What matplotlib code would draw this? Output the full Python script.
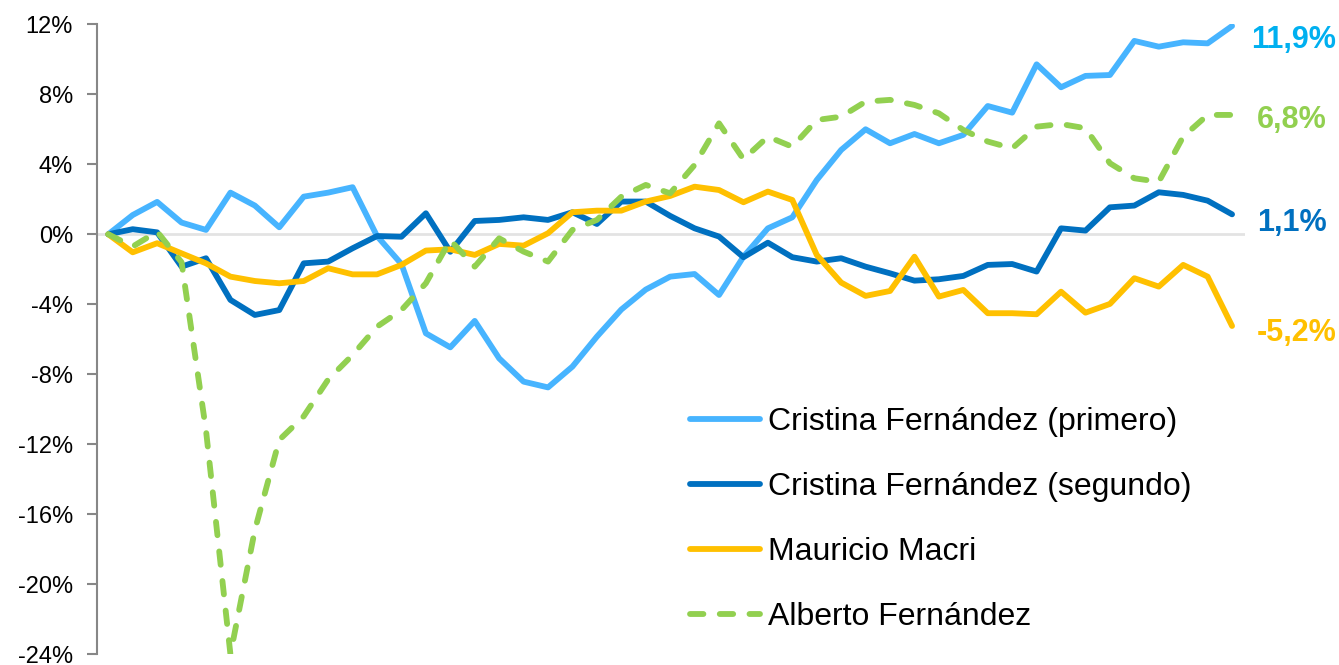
import matplotlib
matplotlib.use("Agg")
import matplotlib.pyplot as plt
import numpy as np

plt.rcParams['font.family'] = ['Liberation Sans', 'DejaVu Sans']

# variacion acumulada (%) por periodo
cfk_primero = [0, 1.1, 1.85, 0.67, 0.25, 2.38, 1.64, 0.4, 2.15, 2.38,
               2.69, -0.1, -1.7, -5.66, -6.46, -4.95, -7.09, -8.42, -8.75, -7.56,
               -5.85, -4.3, -3.16, -2.42, -2.27, -3.47, -1.28, 0.34, 0.97, 3.1,
               4.82, 6.0, 5.2, 5.73, 5.2, 5.68, 7.33, 6.95, 9.71, 8.4,
               9.05, 9.1, 11.05, 10.72, 10.97, 10.91, 11.9]
cfk_segundo = [0, 0.29, 0.11, -1.85, -1.37, -3.75, -4.61, -4.33, -1.66, -1.56,
               -0.8, -0.1, -0.14, 1.2, -1.0, 0.76, 0.82, 0.97, 0.82, 1.26,
               0.59, 1.87, 1.87, 1.05, 0.34, -0.13, -1.31, -0.48, -1.31, -1.56,
               -1.37, -1.85, -2.23, -2.65, -2.57, -2.38, -1.75, -1.7, -2.13, 0.34,
               0.21, 1.54, 1.64, 2.4, 2.25, 1.92, 1.14]
macri = [0, -1.03, -0.51, -1.09, -1.66, -2.42, -2.67, -2.8, -2.67, -1.94,
         -2.29, -2.29, -1.75, -0.93, -0.86, -1.18, -0.55, -0.65, 0.06, 1.26,
         1.35, 1.35, 1.87, 2.19, 2.72, 2.53, 1.83, 2.44, 1.96, -1.18,
         -2.76, -3.52, -3.24, -1.28, -3.56, -3.18, -4.51, -4.51, -4.57, -3.28,
         -4.48, -3.98, -2.51, -2.99, -1.75, -2.42, -5.24]
alberto = [0, -0.7, 0.15, -1.6, -11.2, -24.0, -16.9, -11.75, -10.4, -8.3,
           -6.9, -5.28, -4.33, -2.8, -0.33, -1.85, -0.23, -0.99, -1.56, 0.25,
           0.82, 2.15, 2.82, 2.34, 3.96, 6.34, 4.29, 5.58, 5.0, 6.53,
           6.72, 7.58, 7.68, 7.39, 6.91, 5.96, 5.3, 4.91, 6.15, 6.3,
           6.06, 4.06, 3.2, 3.0, 5.58, 6.82, 6.82]

names = ["Cristina Fernández (primero)", "Cristina Fernández (segundo)",
         "Mauricio Macri", "Alberto Fernández"]
line_colors = ["#47B4FF", "#0070C0", "#FFC000", "#92D050"]
label_colors = ["#00B0F0", "#0070C0", "#FFC000", "#92D050"]
end_labels = ["11,9%", "1,1%", "-5,2%", "6,8%"]
yticks = [12, 8, 4, 0, -4, -8, -12, -16, -20, -24]

fig = plt.figure(figsize=(13.39, 6.65), dpi=100)
ax = fig.add_axes([0.0722, 0.0161, 0.9298 - 0.0722, 0.9635 - 0.0161])

series = [cfk_primero, cfk_segundo, macri, alberto]
x = np.arange(len(cfk_primero))

ax.axhline(0, color="#E3E3E3", lw=2, zorder=1)

for vals, name, c in zip(series, names, line_colors):
    if name == "Alberto Fernández":
        ax.plot(x, vals, color=c, lw=4.2, label=name, dashes=(2.3, 2.8),
                dash_capstyle="round", solid_joinstyle="round", zorder=3)
    else:
        ax.plot(x, vals, color=c, lw=4.2, label=name, solid_capstyle="round",
                solid_joinstyle="round", zorder=3)

# etiquetas al final de cada serie
offsets = [(14, -10), (18, -6), (18, -5), (18, -4)]
for vals, txt, c, off in zip(series, end_labels, label_colors, offsets):
    ax.annotate(txt, xy=(x[-1], vals[-1]), xytext=off, textcoords="offset points",
                ha="left", va="center", fontsize=22, fontweight="bold",
                color=c, annotation_clip=False)

ax.set_xlim(-0.475, 46.53)
ax.set_ylim(-24, 12)
ax.set_yticks(yticks)
ax.set_yticklabels(["%d%%" % t for t in yticks], fontsize=17)
ax.set_xticks([])

for s in ["top", "right", "bottom"]:
    ax.spines[s].set_visible(False)
ax.spines["left"].set_color("#878787")
ax.spines["left"].set_linewidth(1.5)
ax.tick_params(axis="y", length=7, width=1.5, color="#878787", pad=10)

leg = ax.legend(loc="center left", bbox_to_anchor=(0.5153, 0.2187),
                bbox_transform=fig.transFigure, frameon=False, fontsize=23,
                handlelength=2.2, handletextpad=0.25, labelspacing=1.09,
                borderpad=0, borderaxespad=0)

fig.savefig("out.png", dpi=100)
